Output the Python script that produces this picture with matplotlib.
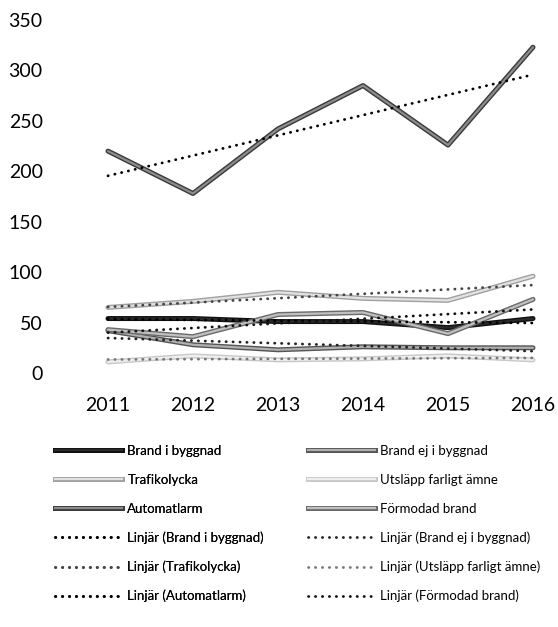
import matplotlib
matplotlib.use("Agg")
import matplotlib.pyplot as plt
import matplotlib.patheffects as pe
from matplotlib.lines import Line2D
import numpy as np

plt.rcParams["font.family"] = ["Lato", "DejaVu Sans"]

years = [2011, 2012, 2013, 2014, 2015, 2016]

brand_i_byggnad = [54, 54, 51, 51, 45, 54]
brand_ej_i_byggnad = [42, 28, 23, 26, 25, 25]
trafikolycka = [65, 71, 80, 74, 72, 96]
utslapp = [11, 17, 13, 14, 17, 13]
automatlarm = [220, 178, 242, 285, 226, 323]
formodad_brand = [43, 36, 58, 60, 39, 73]

names = ["Brand i byggnad", "Brand ej i byggnad", "Trafikolycka",
         "Utsläpp farligt ämne", "Automatlarm", "Förmodad brand"]
series = [brand_i_byggnad, brand_ej_i_byggnad, trafikolycka,
          utslapp, automatlarm, formodad_brand]

# (outline colour, inner colour, trend colour)
styles = [
    ("#111111", "#2a2a2a", "#000000"),
    ("#555555", "#b0b0b0", "#222222"),
    ("#a0a0a0", "#e2e2e2", "#444444"),
    ("#c8c8c8", "#efefef", "#777777"),
    ("#3a3a3a", "#8c8c8c", "#000000"),
    ("#6a6a6a", "#c0c0c0", "#111111"),
]
DOTS = (0, (0.1, 2.4))

fig = plt.figure(figsize=(5.58, 6.27), dpi=100)
ax = fig.add_axes([108 / 558, 1 - 373 / 627, 425 / 558, 353 / 627])

x = np.array(years)
data_handles = []
trend_handles = []
for name, vals, (edge, inner, tcol) in zip(names, series, styles):
    fx = pe.Stroke(linewidth=3.6, foreground=edge)
    ax.plot(years, vals, color=inner, lw=1.6, solid_capstyle="round",
            path_effects=[fx, pe.Normal()], clip_on=False, zorder=3)
    data_handles.append(Line2D([], [], color=inner, lw=1.6,
                               path_effects=[fx, pe.Normal()], label=name))
    k, m = np.polyfit(x - 2011, vals, 1)
    trend = k * (x - 2011) + m
    ax.plot(years, trend, color=tcol, lw=2.0, linestyle=DOTS,
            dash_capstyle="round", clip_on=False, zorder=4)
    trend_handles.append(Line2D([], [], color=tcol, lw=2.0, linestyle=DOTS,
                                dash_capstyle="round",
                                label=f"Linjär ({name})"))

ax.set_xlim(2011, 2016)
ax.set_ylim(0, 350)
ax.set_yticks(range(0, 351, 50))
ax.set_xticks(years)
for s in ax.spines.values():
    s.set_visible(False)
ax.tick_params(axis="y", length=0, pad=47, labelsize=14)
ax.tick_params(axis="x", length=0, pad=17, labelsize=14)

# two legend columns, filled row by row
leg_kw = dict(loc="upper left", frameon=False, fontsize=9.5,
              handlelength=5.1, handletextpad=0.38, labelspacing=1.27,
              borderpad=0, borderaxespad=0)
left = [data_handles[0], data_handles[2], data_handles[4],
        trend_handles[0], trend_handles[2], trend_handles[4]]
right = [data_handles[1], data_handles[3], data_handles[5],
         trend_handles[1], trend_handles[3], trend_handles[5]]
leg1 = fig.legend(handles=left, bbox_to_anchor=(55 / 558, 1 - 445 / 627), **leg_kw)
fig.add_artist(leg1)
fig.legend(handles=right, bbox_to_anchor=(308 / 558, 1 - 445 / 627), **leg_kw)

fig.savefig("out.png", dpi=100)
